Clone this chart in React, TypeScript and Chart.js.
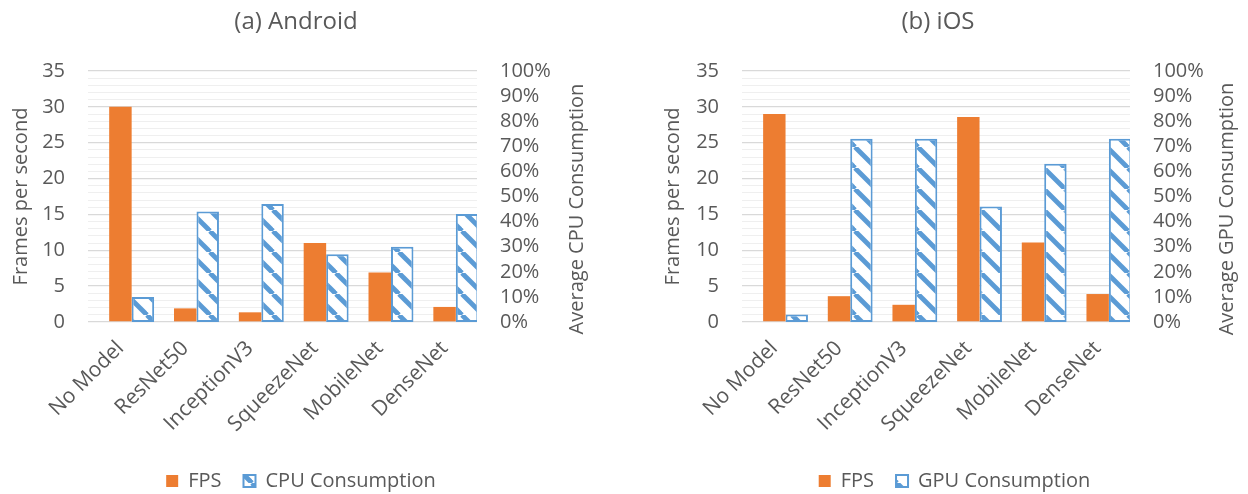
import React, { useEffect, useRef } from 'react';
import { Chart, registerables } from 'chart.js';

Chart.register(...registerables);

// ---------- data ----------
const categories = ['No Model', 'ResNet50', 'InceptionV3', 'SqueezeNet', 'MobileNet', 'DenseNet'];
const androidFps = [30, 1.9, 1.35, 11, 6.9, 2.1];
const androidCpu = [10, 44, 47, 27, 30, 43];
const iosFps = [29, 3.6, 2.4, 28.6, 11.1, 3.9];
const iosGpu = [3, 73, 73, 46, 63, 73];
const fpsTickLabels = ['0', '5', '10', '15', '20', '25', '30', '35'];
const pctTickLabels = ['0%', '10%', '20%', '30%', '40%', '50%', '60%', '70%', '80%', '90%', '100%'];

const ORANGE = '#ED7D31';
const BLUE = '#5B9BD5';
const TEXT = '#595959';
const FONT = "'Open Sans'";

function makeHatch(): CanvasPattern | string {
  const s = 21;
  const c = document.createElement('canvas');
  c.width = s;
  c.height = s;
  const g = c.getContext('2d');
  if (!g) return BLUE;
  g.fillStyle = '#FFFFFF';
  g.fillRect(0, 0, s, s);
  g.strokeStyle = BLUE;
  g.lineWidth = 4.8;
  for (const k of [-s, 0, s]) {
    g.beginPath();
    g.moveTo(k, 0);
    g.lineTo(k + s, s);
    g.stroke();
  }
  const p = g.createPattern(c, 'repeat');
  return p || BLUE;
}

type PanelProps = {
  title: string;
  fps: number[];
  pct: number[];
  pctLabel: string;
  pctTitle: string;
  padLeft: number;
  padRight: number;
  leftW: number;
  rightW: number;
  titleX: number;
  leftTitleX: number;
  rightTitleX: number;
};

function Panel(props: PanelProps) {
  const ref = useRef<HTMLCanvasElement | null>(null);
  useEffect(() => {
    if (!ref.current) return;
    const hatch = makeHatch();
    const textPlugin = {
      id: 'panelText',
      afterDraw(chart: any) {
        const ctx = chart.ctx as CanvasRenderingContext2D;
        const area = chart.chartArea;
        ctx.save();
        ctx.fillStyle = TEXT;
        ctx.textAlign = 'center';
        ctx.textBaseline = 'middle';
        ctx.font = `24px ${FONT}`;
        ctx.fillText(props.title, props.titleX, 22);
        ctx.font = `20px ${FONT}`;
        ctx.save();
        ctx.translate(props.leftTitleX, (area.top + area.bottom) / 2);
        ctx.rotate(-Math.PI / 2);
        ctx.fillText('Frames per second', 0, 0);
        ctx.restore();
        ctx.save();
        ctx.translate(props.rightTitleX, 209);
        ctx.rotate(-Math.PI / 2);
        ctx.fillText(props.pctTitle, 0, 0);
        ctx.restore();
        ctx.restore();
      },
    };
    const chart = new Chart(ref.current, {
      type: 'bar',
      data: {
        labels: categories,
        datasets: [
          {
            label: '',
            data: categories.map(() => null),
            yAxisID: 'y',
            backgroundColor: 'rgba(0,0,0,0)',
          },
          {
            label: 'FPS',
            data: props.fps,
            yAxisID: 'y',
            backgroundColor: ORANGE,
            borderWidth: 0,
          },
          {
            label: props.pctLabel,
            data: props.pct,
            yAxisID: 'y1',
            backgroundColor: hatch as any,
            borderColor: BLUE,
            borderWidth: 2,
            borderSkipped: false,
          },
        ],
      },
      plugins: [textPlugin],
      options: {
        responsive: false,
        animation: false,
        categoryPercentage: 1.04,
        barPercentage: 1.0,
        layout: {
          padding: { top: 71, left: props.padLeft, right: props.padRight, bottom: -7 },
        },
        plugins: {
          title: { display: false },
          tooltip: { enabled: false },
          legend: {
            position: 'bottom',
            labels: {
              filter: (item: any) => item.datasetIndex !== 0,
              boxWidth: 12,
              boxHeight: 12,
              padding: 22,
              color: TEXT,
              font: { size: 20, family: FONT },
            },
          },
        },
        scales: {
          x: {
            grid: { display: false, drawTicks: false },
            border: { display: false },
            ticks: {
              autoSkip: false,
              minRotation: 45,
              maxRotation: 45,
              padding: 14,
              color: TEXT,
              font: { size: 21, family: FONT },
            },
            afterFit: (scale: any) => {
              scale.height = 127;
            },
          },
          y: {
            position: 'left',
            min: 0,
            max: 35,
            grid: {
              drawTicks: false,
              color: (c: any) => (c.tick && c.tick.value % 5 === 0 ? '#D9D9D9' : '#EFEFEF'),
              lineWidth: (c: any) => (c.tick && c.tick.value % 5 === 0 ? 1.3 : 1),
            },
            border: { display: false },
            ticks: {
              stepSize: 1,
              autoSkip: false,
              padding: 23,
              color: TEXT,
              font: { size: 20, family: FONT },
              callback: (v: any) => (Number(v) % 5 === 0 ? fpsTickLabels[Number(v) / 5] : ''),
            },
            afterFit: (scale: any) => {
              scale.width = props.leftW;
            },
          },
          y1: {
            position: 'right',
            min: 0,
            max: 100,
            grid: { display: false, drawTicks: false },
            border: { display: false },
            ticks: {
              stepSize: 10,
              autoSkip: false,
              padding: 23,
              color: TEXT,
              font: { size: 20, family: FONT },
              callback: (v: any) => pctTickLabels[Math.round(Number(v) / 10)],
            },
            afterFit: (scale: any) => {
              scale.width = props.rightW;
            },
          },
        },
      } as any,
    });
    return () => chart.destroy();
  }, []);
  return <canvas ref={ref} width={624} height={494} style={{ display: 'block', width: 624, height: 494 }} />;
}

export default function App() {
  return (
    <div style={{ position: 'absolute', left: 0, top: 0, width: 1248, height: 494, display: 'flex', background: '#FFFFFF' }}>
      <Panel
        title="(a) Android"
        fps={androidFps}
        pct={androidCpu}
        pctLabel="CPU Consumption"
        pctTitle="Average CPU Consumption"
        padLeft={0}
        padRight={22}
        leftW={88}
        rightW={125}
        titleX={296}
        leftTitleX={21}
        rightTitleX={577}
      />
      <Panel
        title="(b) iOS"
        fps={iosFps}
        pct={iosGpu}
        pctLabel="GPU Consumption"
        pctTitle="Average GPU Consumption"
        padLeft={37}
        padRight={0}
        leftW={81}
        rightW={118}
        titleX={314}
        leftTitleX={49.5}
        rightTitleX={603.5}
      />
    </div>
  );
}
